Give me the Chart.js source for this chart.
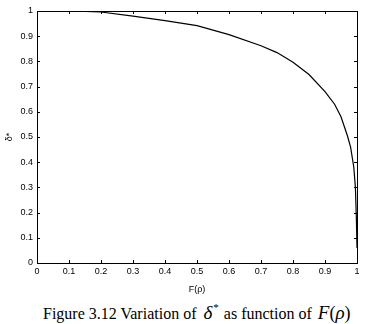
<!DOCTYPE html>
<html>
<head>
<meta charset="utf-8">
<script src="https://cdn.jsdelivr.net/npm/chart.js@4.4.1/dist/chart.umd.min.js"></script>
<style>
  html, body { margin: 0; padding: 0; background: #fff; }
  #wrap { position: relative; width: 366px; height: 324px; overflow: hidden; }
  #box { position: absolute; left: 0; top: 0; width: 366px; height: 295px; }
  #caption {
    position: absolute; left: 43px; top: 303px; height: 20px; line-height: 20px;
    font-family: "Liberation Serif", "Times New Roman", serif; font-size: 16px; color: #000;
    white-space: nowrap;
  }
  #caption .sym { font-style: italic; font-size: 19px; line-height: 20px; }
  #caption .star { font-size: 11px; position: relative; top: -8px; margin-left: 1px; }
</style>
</head>
<body>
<div id="wrap">
  <div id="box"><canvas id="c"></canvas></div>
  <div id="caption">Figure 3.12 Variation of <span style="margin-left:3px" class="sym">&delta;</span><span class="star">*</span><span style="margin-left:5px">as function of </span><span class="sym" style="margin-left:2px">F</span><span style="font-size:18px">(</span><span class="sym">&rho;</span><span style="font-size:18px">)</span></div>
</div>
<script>
// F(rho) values along the horizontal axis
const fRho = [0, 0.1, 0.2, 0.3, 0.4, 0.5, 0.6, 0.7, 0.75, 0.8, 0.85, 0.9, 0.93, 0.95, 0.97, 0.98, 0.99, 0.995, 0.998, 1.0];
// delta* for each F(rho)
const deltaStar = [1, 1.0, 0.996, 0.98, 0.962, 0.942, 0.906, 0.862, 0.835, 0.797, 0.748, 0.68, 0.63, 0.58, 0.505, 0.46, 0.38, 0.3, 0.18, 0.06];
// tick labels
const xTicks = [0, 0.1, 0.2, 0.3, 0.4, 0.5, 0.6, 0.7, 0.8, 0.9, 1];
const yTicks = [0, 0.1, 0.2, 0.3, 0.4, 0.5, 0.6, 0.7, 0.8, 0.9, 1];

const points = fRho.map((x, i) => ({ x: x, y: deltaStar[i] }));
const tickFont = { family: "Liberation Sans, Arial, sans-serif", size: 9 };

// Frame the plot area and draw inward tick marks on all four sides
const boxTicks = {
  id: 'boxTicks',
  afterDraw(chart) {
    const { ctx, chartArea: a, scales } = chart;
    ctx.save();
    ctx.strokeStyle = '#000';
    ctx.lineWidth = 1;
    ctx.strokeRect(Math.round(a.left) + 0.5, Math.round(a.top) + 0.5,
                   Math.round(a.right - a.left), Math.round(a.bottom - a.top));
    const len = 3;
    ctx.beginPath();
    xTicks.forEach(v => {
      const px = Math.round(scales.x.getPixelForValue(v)) + 0.5;
      ctx.moveTo(px, a.bottom); ctx.lineTo(px, a.bottom - len);
      ctx.moveTo(px, a.top); ctx.lineTo(px, a.top + len);
    });
    yTicks.forEach(v => {
      const py = Math.round(scales.y.getPixelForValue(v)) + 0.5;
      ctx.moveTo(a.left, py); ctx.lineTo(a.left + len, py);
      ctx.moveTo(a.right, py); ctx.lineTo(a.right - len, py);
    });
    ctx.stroke();
    ctx.restore();
  }
};

new Chart(document.getElementById('c'), {
  type: 'line',
  data: {
    datasets: [{
      data: points,
      borderColor: '#000',
      borderWidth: 1.2,
      pointRadius: 0,
      tension: 0,
      fill: false
    }]
  },
  options: {
    responsive: true,
    maintainAspectRatio: false,
    animation: false,
    layout: { padding: { top: 11, right: 9, bottom: 0, left: 0 } },
    plugins: { legend: { display: false }, tooltip: { enabled: false } },
    scales: {
      x: {
        type: 'linear', min: 0, max: 1,
        afterBuildTicks(s) { s.ticks = xTicks.map(v => ({ value: v })); },
        afterFit(s) { s.height = 32; },
        grid: { display: false, drawTicks: false },
        border: { display: false },
        ticks: { color: '#000', font: tickFont, padding: 3, maxRotation: 0,
                 callback: v => String(v) },
        title: { display: true, text: 'F(ρ)', color: '#000', font: tickFont, padding: { top: 1, bottom: 0 } }
      },
      y: {
        type: 'linear', min: 0, max: 1,
        afterBuildTicks(s) { s.ticks = yTicks.map(v => ({ value: v })); },
        afterFit(s) { s.width = 37; },
        grid: { display: false, drawTicks: false },
        border: { display: false },
        ticks: { color: '#000', font: tickFont, padding: 4,
                 callback: v => String(v) },
        title: { display: true, text: 'δ*', color: '#000', font: tickFont, padding: { top: 4, bottom: 2 } }
      }
    }
  },
  plugins: [boxTicks]
});
</script>
</body>
</html>
